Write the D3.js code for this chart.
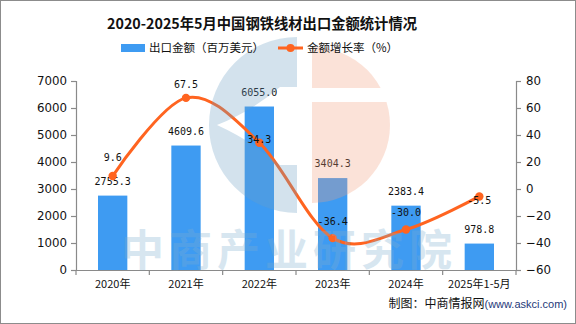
<!DOCTYPE html>
<html><head><meta charset="utf-8">
<script src="https://cdn.jsdelivr.net/npm/d3@7"></script>
<style>html,body{margin:0;padding:0;background:#fff}svg{display:block}</style>
</head><body>
<script>
const categories = ["2020年","2021年","2022年","2023年","2024年","2025年1-5月"];
const exportValues = [2755.3, 4609.6, 6055.0, 3404.3, 2383.4, 978.8];
const growthRates = [9.6, 67.5, 34.3, -36.4, -30.0, -5.5];
const leftTicks = [0,1000,2000,3000,4000,5000,6000,7000];
const rightTicks = [-60,-40,-20,0,20,40,60,80];
const titleText = "2020-2025年5月中国钢铁线材出口金额统计情况";
const legendBar = "出口金额（百万美元）";
const legendLine = "金额增长率（%）";

const W=576,H=324;
const svg=d3.select("body").append("svg").attr("width",W).attr("height",H);
svg.append("rect").attr("x",0.5).attr("y",0.5).attr("width",W-1).attr("height",H-1).attr("fill","#fff").attr("stroke","#8c8c8c");

const pLeft=76,pRight=516,pTop=81,pBottom=270;
const x=d3.scaleBand().domain(categories).range([pLeft,pRight]).paddingInner(0.6).paddingOuter(0.3);
const yL=d3.scaleLinear().domain([0,7000]).range([pBottom,pTop]);
const yR=d3.scaleLinear().domain([-60,80]).range([pBottom,pTop]);
const barColor="#3e9bf2", lineColor="#ff6420", axisColor="#8a8a8a";
const numFont="'DejaVu Sans Mono', monospace";
const cjk="'Noto Sans CJK SC', sans-serif";

// title
svg.append("text").attr("x",262).attr("y",25).attr("text-anchor","middle").attr("dominant-baseline","middle")
  .attr("font-family",cjk).attr("font-weight","bold").attr("font-size",14.3).attr("fill","#111").text(titleText);

// axes
const axL=svg.append("g").attr("transform",`translate(${pLeft},0)`)
  .call(d3.axisLeft(yL).tickValues(leftTicks).tickSize(5).tickPadding(4).tickFormat(d3.format("d")));
const axR=svg.append("g").attr("transform",`translate(${pRight},0)`)
  .call(d3.axisRight(yR).tickValues(rightTicks).tickSize(5).tickPadding(5).tickFormat(d3.format("d")));
[axL,axR].forEach(a=>{
  a.select(".domain").attr("stroke",axisColor).attr("stroke-width",1.2);
  a.selectAll(".tick line").attr("stroke",axisColor).attr("stroke-width",1.2);
  a.selectAll(".tick text").attr("font-family","'DejaVu Sans', sans-serif").attr("font-size",11.8).attr("fill","#111");
});
const axB=svg.append("g").attr("transform",`translate(0,${pBottom})`)
  .call(d3.axisBottom(x).tickSize(0).tickPadding(10));
axB.select(".domain").attr("stroke",axisColor).attr("stroke-width",1.2);
axB.selectAll(".tick text").attr("font-family",cjk).attr("font-size",11).attr("fill","#111");
axB.selectAll(".btick").data(d3.range(categories.length+1)).enter().append("line")
  .attr("x1",i=>pLeft+i*x.step()).attr("x2",i=>pLeft+i*x.step())
  .attr("y1",0).attr("y2",5).attr("stroke",axisColor).attr("stroke-width",1.2);

// bars
svg.append("g").selectAll("rect").data(exportValues).enter().append("rect")
  .attr("x",(d,i)=>x(categories[i])).attr("width",x.bandwidth())
  .attr("y",d=>yL(d)).attr("height",d=>pBottom-yL(d)).attr("fill",barColor);
svg.append("g").selectAll("text").data(exportValues).enter().append("text")
  .attr("x",(d,i)=>x(categories[i])+x.bandwidth()/2).attr("y",d=>yL(d)-14)
  .attr("text-anchor","middle").attr("dominant-baseline","middle")
  .attr("font-family",numFont).attr("font-size",10).attr("fill","#111").text(d=>d.toFixed(1));

// line
const cx=(i)=>x(categories[i])+x.bandwidth()/2;
const line=d3.line().x((d,i)=>cx(i)).y(d=>yR(d)).curve(d3.curveCardinal.tension(0));
svg.append("path").datum(growthRates).attr("d",line).attr("fill","none").attr("stroke",lineColor).attr("stroke-width",3);
svg.append("g").selectAll("circle").data(growthRates).enter().append("circle")
  .attr("cx",(d,i)=>cx(i)).attr("cy",d=>yR(d)).attr("r",4.2).attr("fill",lineColor);
const labelDy=[-18,-13,-3,-16,-17,5];
svg.append("g").selectAll("text").data(growthRates).enter().append("text")
  .attr("x",(d,i)=>cx(i)).attr("y",(d,i)=>yR(d)+labelDy[i])
  .attr("text-anchor","middle").attr("dominant-baseline","middle")
  .attr("font-family",numFont).attr("font-size",10).attr("fill","#111").text(d=>d.toFixed(1));

// watermark logo
const wm=svg.append("g").attr("pointer-events","none");
const bc=[297,125], br=88;
const bluePath=`M${bc[0]},${bc[1]-br} A${br},${br} 0 0 0 ${bc[0]},${bc[1]+br} L${bc[0]},${bc[1]+40} L${bc[0]-17},${bc[1]+40} L${bc[0]-17},${bc[1]-38} L${bc[0]},${bc[1]-38} Z `+
  `M${bc[0]-80},${bc[1]} Q${bc[0]-45},${bc[1]-14} ${bc[0]-17},${bc[1]-38} L${bc[0]-17},${bc[1]+40} Q${bc[0]-45},${bc[1]+16} ${bc[0]-80},${bc[1]} Z`;
wm.append("path").attr("d",bluePath).attr("fill-rule","evenodd").attr("fill","#6e9fc2").attr("opacity",0.3);
const pc=[312,125], pr=78;
const pinkPath=`M${pc[0]},${pc[1]-pr} A${pr},${pr} 0 0 1 ${pc[0]+pr},${pc[1]} A${pr},${pr} 0 0 1 ${pc[0]},${pc[1]+pr} Z`;
const pinkClip=svg.append("defs").append("clipPath").attr("id","pc");
pinkClip.append("rect").attr("x",300).attr("y",40).attr("width",100).attr("height",48);
pinkClip.append("rect").attr("x",300).attr("y",102).attr("width",100).attr("height",120);
wm.append("path").attr("d",pinkPath).attr("clip-path","url(#pc)").attr("fill","#f2a07e").attr("opacity",0.3);
wm.append("text").attr("x",289).attr("y",266).attr("text-anchor","middle").attr("font-family",cjk).attr("font-weight","bold")
  .attr("font-size",43).attr("letter-spacing",5).attr("fill","#7eaed0").attr("opacity",0.3).text("中商产业研究院");

// legend (over logo)
svg.append("rect").attr("x",121).attr("y",44).attr("width",24).attr("height",8).attr("fill",barColor);
svg.append("text").attr("x",149).attr("y",48.5).attr("dominant-baseline","middle").attr("font-family",cjk)
  .attr("font-size",11.5).attr("fill","#111").text(legendBar);
svg.append("line").attr("x1",278).attr("x2",303).attr("y1",48).attr("y2",48).attr("stroke",lineColor).attr("stroke-width",3);
svg.append("circle").attr("cx",290.5).attr("cy",48).attr("r",4).attr("fill",lineColor);
svg.append("text").attr("x",307).attr("y",48.5).attr("dominant-baseline","middle").attr("font-family",cjk)
  .attr("font-size",11.5).attr("fill","#111").text(legendLine);

// source
const src=svg.append("text").attr("x",567).attr("y",308).attr("text-anchor","end").attr("font-family",cjk).attr("font-size",12).attr("fill","#111");
src.append("tspan").text("制图：中商情报网");
src.append("tspan").attr("font-family","'Liberation Sans', Arial, sans-serif").attr("font-size",11).attr("fill","#1f3a7a").text("(www.askci.com)");
</script>
</body></html>
